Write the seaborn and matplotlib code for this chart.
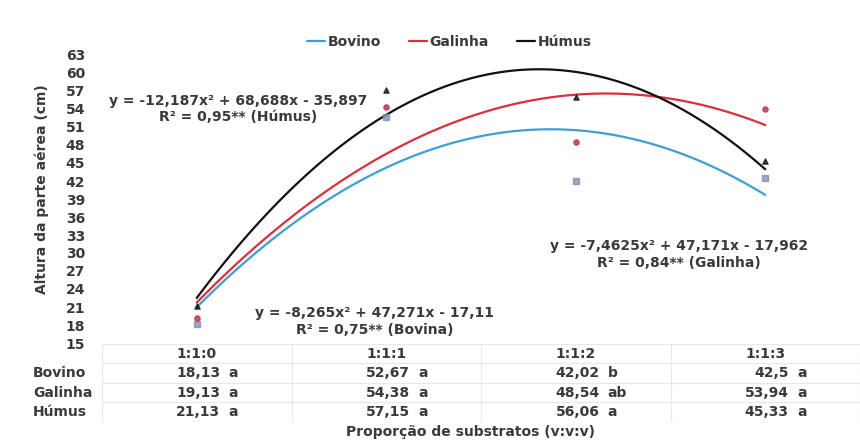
import numpy as np
import matplotlib
matplotlib.use("Agg")
import matplotlib.pyplot as plt
import seaborn as sns
from matplotlib.lines import Line2D

# Dados (altura da parte aerea, cm)
categorias = ["1:1:0", "1:1:1", "1:1:2", "1:1:3"]
posicoes = [1, 2, 3, 4]
bovino = [18.13, 52.67, 42.02, 42.5]
galinha = [19.13, 54.38, 48.54, 53.94]
humus = [21.13, 57.15, 56.06, 45.33]
letras_bovino = ["a", "a", "b", "a"]
letras_galinha = ["a", "a", "ab", "a"]
letras_humus = ["a", "a", "a", "a"]
y_ticks = list(range(15, 64, 3))

eq_humus = "y = -12,187x² + 68,688x - 35,897\nR² = 0,95** (Húmus)"
eq_bovino = "y = -8,265x² + 47,271x - 17,11\nR² = 0,75** (Bovina)"
eq_galinha = "y = -7,4625x² + 47,171x - 17,962\nR² = 0,84** (Galinha)"

sns.set_theme(style="white")
plt.rcParams["font.family"] = ["DejaVu Sans"]
plt.rcParams["font.weight"] = "bold"
FS = 10
COR_TXT = "#3a3a3a"

fig = plt.figure(figsize=(8.6, 4.44), dpi=100)
ax = fig.add_axes([102 / 860, 1 - 343 / 444, 758 / 860, 288 / 444])
tab = fig.add_axes([102 / 860, 1 - 422 / 444, 758 / 860, 78 / 444], sharex=ax)

series = [
    ("Bovino", bovino, letras_bovino, "#3d9fd4", "#8292b4", "s"),
    ("Galinha", galinha, letras_galinha, "#d9303e", "#b8304a", "o"),
    ("Húmus", humus, letras_humus, "#111111", "#111111", "^"),
]

handles = []
for nome, vals, letras, cor, cor_mk, mk in series:
    sns.regplot(
        x=np.array(posicoes), y=np.array(vals), order=2, ci=None, ax=ax,
        truncate=True, marker=mk,
        scatter_kws={"s": 14, "color": cor_mk, "zorder": 3},
        line_kws={"color": cor, "lw": 1.6},
    )
    handles.append(Line2D([0], [0], color=cor, lw=1.6, label=nome))

ax.set_xlim(0.5, 4.5)
ax.set_ylim(15, 63)
ax.set_yticks(y_ticks)
ax.set_yticklabels([str(t) for t in y_ticks], fontsize=FS, fontweight="bold")
ax.tick_params(axis="y", length=0, pad=12, colors=COR_TXT)
ax.tick_params(axis="x", bottom=False, labelbottom=False)
ax.set_xlabel("")
ax.set_ylabel("")
for s in ax.spines.values():
    s.set_visible(False)

# Equacoes
kw = dict(ha="center", va="center", fontsize=FS, fontweight="bold",
          color=COR_TXT, multialignment="center", linespacing=1.25)
ax.text(1.22, 54.0, eq_humus, **kw)
ax.text(1.94, 18.6, eq_bovino, **kw)
ax.text(3.545, 29.8, eq_galinha, **kw)

# Tabela de dados
tab.set_ylim(3.5, -0.5)
tab.set_xticks([])
tab.set_yticks([])
for s in tab.spines.values():
    s.set_visible(False)
grade = "#e8e8e8"
for xb in np.arange(0.5, 4.6, 1.0):
    tab.axvline(xb, color=grade, lw=0.8)
for yb in np.arange(-0.5, 3.6, 1.0):
    tab.axhline(yb, color=grade, lw=0.8)

txt = dict(fontsize=FS, fontweight="bold", color=COR_TXT, va="center")
for i, cat in enumerate(categorias):
    tab.text(posicoes[i], 0, cat, ha="center", **txt)
for r, (nome, vals, letras, *_) in enumerate(series, start=1):
    tab.text(-0.091, r, nome, ha="left", transform=tab.get_yaxis_transform(), **txt)
    for i, v in enumerate(vals):
        tab.annotate(str(v).replace(".", ","), (posicoes[i], r), xytext=(17, 0),
                     textcoords="offset points", ha="right", **txt)
        tab.annotate(letras[i], (posicoes[i], r), xytext=(23, 0),
                     textcoords="offset points", ha="left", **txt)

fig.legend(handles=handles, loc="center", bbox_to_anchor=(449 / 860, 1 - 42 / 444),
           ncol=3, frameon=False, handlelength=1.3,
           handletextpad=0.2, columnspacing=2.0,
           prop={"weight": "bold", "size": FS})
for t in fig.legends[0].get_texts():
    t.set_color(COR_TXT)

fig.text(42 / 860, 1 - 189 / 444, "Altura da parte aérea (cm)", rotation=90,
         ha="center", va="center", fontsize=FS, fontweight="bold", color=COR_TXT)
fig.text(471 / 860, 1 - 432 / 444, "Proporção de substratos (v:v:v)",
         ha="center", va="center", fontsize=FS, fontweight="bold", color=COR_TXT)

fig.savefig("out.png", dpi=100)
